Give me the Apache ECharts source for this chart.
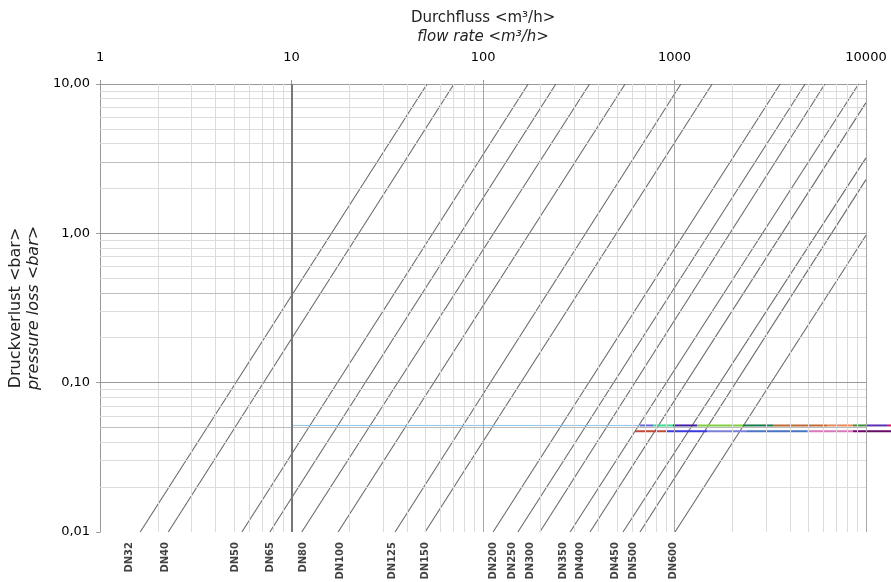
<!DOCTYPE html>
<html>
<head>
<meta charset="utf-8">
<title>Druckverlust / pressure loss</title>
<script src="https://cdn.jsdelivr.net/npm/echarts/dist/echarts.min.js"></script>
<style>
    html, body { margin: 0; padding: 0; background: #fff; }
    #chart { width: 891px; height: 582px; }
</style>
</head>
<body>
<div id="chart"></div>
<script>
// Nennweiten
var dnNames = ["DN32", "DN40", "DN50", "DN65", "DN80", "DN100", "DN125", "DN150",
    "DN200", "DN250", "DN300", "DN350", "DN400", "DN450", "DN500", "DN600"];
// Durchfluss am Linienanfang (bei 0,01 bar) <m3/h>
var qStart = [1.62, 2.27, 5.5, 7.7, 11.3, 17.5, 34.7, 49.8,
    112.8, 152, 198, 285, 362, 538, 660, 1006];
// Linienende: Durchfluss <m3/h> und Druckverlust <bar>
var qEnd = [51.0, 70.5, 172, 240, 360, 552, 1080, 1572,
    3560, 4810, 6100, 9150, 10000, 10000, 10000, 10000];
var pEnd = [10, 10, 10, 10, 10, 10, 10, 10,
    10, 10, 10, 10, 7.5, 3.2, 2.29, 0.97];
// Lage der Beschriftung unter der Achse
var labelQ = [1.43, 2.19, 5.07, 7.72, 11.5, 17.9, 33.5, 49.8,
    112.8, 143, 176, 262, 321, 489, 607, 982];

var xTicks = [1, 10, 100, 1000, 10000];
var xTickLabels = ["1", "10", "100", "1000", "10000"];
var yTicks = [0.01, 0.1, 1, 10];
var yTickLabels = ["0,01", "0,10", "1,00", "10,00"];
// etwas kraeftigere Hilfslinien
var yStrong = [3, 0.4, 0.05];

// Stoerstreifen im Bild bei ca. 0,05 bar (laeuft bis an den Bildrand)
var bandBlue = [[10, 0.0517], [660, 0.0517]];
var bandTopP = 0.0517;
var bandTopQ = [660, 772, 982, 1311, 2279, 3268, 6257, 8555, 10120, 12874, 13504];
var bandLowP = 0.0473;
var bandLowQ = [622, 914, 1478, 2391, 4920, 8555, 13504];
var bandEdgeQ = 13504;

var bandTopColors = ["#6a6ad0", "#30e090", "#4020a0", "#80d040", "#1a7a4c",
    "#c06a3a", "#e88a5a", "#3e8a3e", "#5a32b4", "#e0146c"];
var bandLowColors = ["#c04a3a", "#3a3ae0", "#7a80d8", "#4a74c4", "#d878b8", "#6a0a66"];

var minorX = [];
[1, 10, 100, 1000].forEach(function(d) {
    for (var k = 2; k <= 9; k++) minorX.push(d * k);
});
var minorY = [];
[0.01, 0.1, 1].forEach(function(d) {
    for (var k = 2; k <= 9; k++) minorY.push(+(d * k).toPrecision(3));
});

function gridSeries(name, items, color, width) {
    return {
        name: name,
        type: "line",
        data: [],
        z: 1,
        silent: true,
        markLine: {
            silent: true,
            symbol: ["none", "none"],
            label: { show: false },
            emphasis: { disabled: true },
            animation: false,
            lineStyle: { type: "solid", color: color, width: width },
            data: items
        }
    };
}

var series = [];
series.push(gridSeries("minorX", minorX.map(function(v) { return { xAxis: v }; }), "#dcdcdc", 1));
series.push(gridSeries("minorY", minorY.map(function(v) { return { yAxis: v }; }), "#dcdcdc", 1));
series.push(gridSeries("strongY", yStrong.map(function(v) { return { yAxis: v }; }), "#bdbdbd", 1));
series.push(gridSeries("majorX", [{ xAxis: 100 }, { xAxis: 1000 }, { xAxis: 10000 }], "#a8a8a8", 1));
series.push(gridSeries("majorY", [{ yAxis: 0.1 }, { yAxis: 1 }], "#999", 1.2));
series.push(gridSeries("x10", [{ xAxis: 10 }], "#777", 2));

dnNames.forEach(function(name, i) {
    series.push({
        name: name,
        type: "line",
        z: 3,
        symbol: "none",
        silent: true,
        lineStyle: { color: "#6a6a6a", width: 1.1 },
        data: [[qStart[i], 0.01], [qEnd[i], pEnd[i]]]
    });
});

function bandSeries(data, color, width) {
    return {
        type: "line", z: 4, symbol: "none", silent: true,
        xAxisIndex: 1, yAxisIndex: 1,
        lineStyle: { color: color, width: width },
        data: data
    };
}
series.push(bandSeries(bandBlue, "#8cc4ec", 1));
for (var i = 0; i < bandTopQ.length - 1; i++) {
    series.push(bandSeries([[bandTopQ[i], bandTopP], [bandTopQ[i + 1], bandTopP]], bandTopColors[i], 2));
}
for (var j = 0; j < bandLowQ.length - 1; j++) {
    series.push(bandSeries([[bandLowQ[j], bandLowP], [bandLowQ[j + 1], bandLowP]], bandLowColors[j], 2));
}

series.push({
    name: "labels",
    type: "scatter",
    z: 5,
    symbolSize: 0,
    silent: true,
    data: dnNames.map(function(n, i) { return { name: n, value: [labelQ[i], 0.01] }; }),
    label: {
        show: true,
        formatter: "{b}",
        position: "bottom",
        distance: 10,
        rotate: 90,
        align: "right",
        verticalAlign: "middle",
        fontFamily: "DejaVu Sans",
        fontWeight: "bold",
        fontSize: 10,
        color: "#111"
    }
});

var chart = echarts.init(document.getElementById("chart"));
chart.setOption({
    animation: false,
    backgroundColor: "#fff",
    grid: [
        { left: 100, right: 25, top: 84, bottom: 50 },
        { left: 100, right: 0, top: 84, bottom: 50, show: false }
    ],
    xAxis: [{
        type: "log",
        logBase: 10,
        min: 1,
        max: 10000,
        position: "top",
        name: "{a|Durchfluss <m³/h>}\n{b|flow rate <m³/h>}",
        nameLocation: "middle",
        nameGap: 37,
        nameTextStyle: {
            rich: {
                a: { fontFamily: "DejaVu Sans", fontSize: 15, lineHeight: 19, color: "#222" },
                b: { fontFamily: "DejaVu Sans", fontSize: 15, lineHeight: 19, color: "#222", fontStyle: "italic" }
            }
        },
        axisLine: { show: true, lineStyle: { color: "#999" } },
        axisTick: { show: true, length: 4, lineStyle: { color: "#999" } },
        splitLine: { show: false },
        axisLabel: {
            margin: 20,
            fontFamily: "DejaVu Sans",
            fontSize: 13,
            color: "#000",
            formatter: function(v) {
                var k = xTicks.indexOf(Math.round(v));
                return k < 0 ? "" : xTickLabels[k];
            }
        }
    }, {
        type: "log",
        gridIndex: 1,
        min: 1,
        max: bandEdgeQ,
        show: false
    }],
    yAxis: [{
        type: "log",
        logBase: 10,
        min: 0.01,
        max: 10,
        name: "{a|Druckverlust <bar>}\n{b|pressure loss <bar>}",
        nameLocation: "middle",
        nameRotate: 90,
        nameGap: 48,
        nameTextStyle: {
            rich: {
                a: { fontFamily: "DejaVu Sans", fontSize: 16, lineHeight: 18, color: "#222" },
                b: { fontFamily: "DejaVu Sans", fontSize: 16, lineHeight: 18, color: "#222", fontStyle: "italic" }
            }
        },
        axisLine: { show: true, lineStyle: { color: "#999" } },
        axisTick: { show: true, length: 4, lineStyle: { color: "#999" } },
        splitLine: { show: false },
        axisLabel: {
            margin: 10,
            fontFamily: "DejaVu Sans",
            fontSize: 13,
            color: "#000",
            formatter: function(v) {
                for (var k = 0; k < yTicks.length; k++) {
                    if (Math.abs(Math.log10(v) - Math.log10(yTicks[k])) < 1e-6) return yTickLabels[k];
                }
                return "";
            }
        }
    }, {
        type: "log",
        gridIndex: 1,
        min: 0.01,
        max: 10,
        show: false
    }],
    series: series
});
</script>
</body>
</html>
